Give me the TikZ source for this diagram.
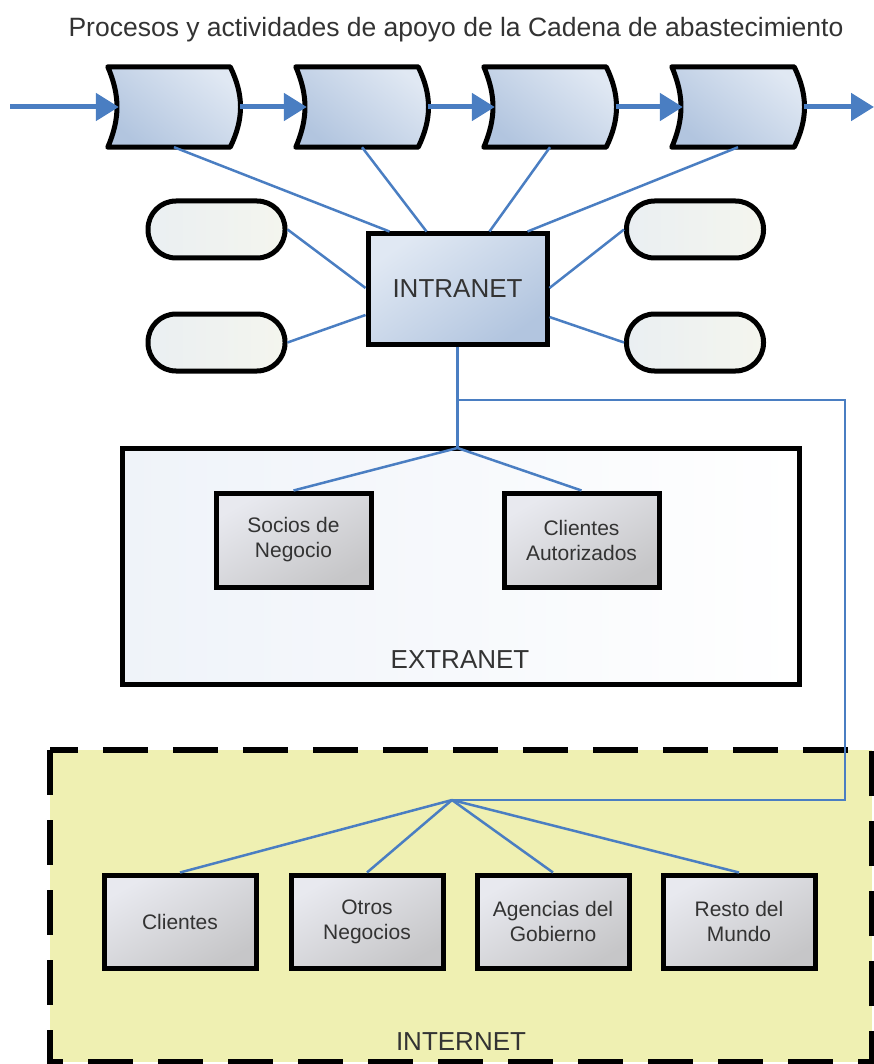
\documentclass[tikz,border=0pt]{standalone}
\usepackage{fontspec}
\setmainfont{Liberation Sans}
\usetikzlibrary{arrows.meta,calc}

\definecolor{link}{HTML}{4A7EC2}
\definecolor{ink}{HTML}{333333}
\definecolor{procLight}{HTML}{E0E8F3}
\definecolor{procDark}{HTML}{B2C5DF}
\definecolor{pillA}{HTML}{EAEFF2}
\definecolor{pillB}{HTML}{F4F5EE}
\definecolor{grayLight}{HTML}{E8E9EF}
\definecolor{grayDark}{HTML}{C6C6C8}
\definecolor{netYellow}{HTML}{EFF0B2}
\definecolor{extTint}{HTML}{EFF3F9}

\tikzset{
  big/.style={font=\fontsize{26}{30}\selectfont, text=ink},
  small/.style={font=\fontsize{21}{25}\selectfont, text=ink, align=center},
  procnode/.style={minimum width=132pt, minimum height=80pt, inner sep=0pt},
  procshape/.style={draw=black, line width=5pt, line join=round,
    top color=procLight, bottom color=procDark, shading angle=-40},
  pill/.style={draw=black, line width=5pt, rounded corners=28pt,
    minimum width=137pt, minimum height=57pt, inner sep=0pt,
    left color=pillA, right color=pillB},
  hubbox/.style={draw=black, line width=5pt, minimum width=179pt,
    minimum height=110pt, inner sep=0pt, big,
    top color=procLight, bottom color=procDark, shading angle=35},
  graybox/.style={draw=black, line width=5pt, minimum width=155pt,
    minimum height=94pt, inner sep=0pt, small,
    top color=grayLight, bottom color=grayDark, shading angle=30},
  netbox/.style={graybox, minimum width=152pt, minimum height=93pt},
  zone/.style={draw=black, line width=5pt, inner sep=0pt},
  netborder/.style={draw=black, line width=5.5pt, dash pattern=on 45pt off 25pt},
  wire/.style={draw=link, line width=2.5pt},
  flow/.style={draw=link, line width=5pt,
    -{Triangle[length=23pt,width=27pt]}, shorten >=-2pt},
}

\begin{document}
\begin{tikzpicture}[x=1pt,y=-1pt]
\useasboundingbox (0,0) rectangle (874,1064);

% title
\node[big, font=\fontsize{26.5}{30}\selectfont] (title) at (456,30)
  {Procesos y actividades de apoyo de la Cadena de abastecimiento};

% ---- internet zone (background) ----
\fill[netYellow] (50,750) rectangle (872,1062);
\draw[netborder] (50,750) rectangle (872,1062);

% ---- process chain: concave left side, convex right side ----
\foreach \n/\x in {p1/174, p2/362, p3/550, p4/738}{
  \node[procnode] (\n) at (\x,107) {};
  \path[procshape]
    (\n.north west) -- ([xshift=-10pt]\n.north east)
    to[bend left=26] ([xshift=-10pt]\n.south east)
    -- (\n.south west)
    to[bend right=23] (\n.north west) -- cycle;
}
\coordinate (start) at (10,107);
\coordinate (finish) at (872,107);
\draw[flow] (start) -- ([xshift=9pt]p1.west);
\draw[flow] (p1.east) -- ([xshift=9pt]p2.west);
\draw[flow] (p2.east) -- ([xshift=9pt]p3.west);
\draw[flow] (p3.east) -- ([xshift=9pt]p4.west);
\draw[flow] (p4.east) -- (finish);

% ---- intranet ----
\node[hubbox] (intranet) at (457.5,289) {INTRANET};
\node[pill] (pl1) at (216.5,229.5) {};
\node[pill] (pl2) at (216.5,342.5) {};
\node[pill] (pr1) at (695,229.5) {};
\node[pill] (pr2) at (695,342.5) {};

\draw[wire] (p1.south) -- ([xshift=-68pt]intranet.north);
\draw[wire] (p2.south) -- ([xshift=-31pt]intranet.north);
\draw[wire] (p3.south) -- ([xshift=32pt]intranet.north);
\draw[wire] (p4.south) -- ([xshift=70pt]intranet.north);
\draw[wire] (pl1.east) -- ([yshift=1pt]intranet.west);
\draw[wire] (pl2.east) -- ([yshift=-26pt]intranet.west);
\draw[wire] (pr1.west) -- ([yshift=1pt]intranet.east);
\draw[wire] (pr2.west) -- ([yshift=-28pt]intranet.east);

% ---- extranet ----
\node[zone, minimum width=677pt, minimum height=236pt,
      left color=extTint, right color=white] (extranet) at (460.5,566) {};
\node[big] (extlabel) at (460,660) {EXTRANET};
\node[graybox] (socios) at (293.5,540) {Socios de\\Negocio};
\node[graybox] (autorizados) at (581.5,540) {Clientes\\Autorizados};

\coordinate (split) at (457.5,400);
\coordinate (h1) at (457.5,448);
\coordinate (h2) at (452,800);
\coordinate (rightrun) at (845,600);

\draw[wire] (intranet.south) -- (split) -- (h1);
\draw[wire] (h1) -- (socios.north);
\draw[wire] (h1) -- (autorizados.north);
\draw[wire] (split) -- (split -| rightrun) -- (rightrun |- h2) -- (h2);

% ---- internet ----
\node[netbox] (clientes) at (180,921.5) {Clientes};
\node[netbox] (otros) at (367,921.5) {Otros\\Negocios};
\node[netbox] (agencias) at (553,921.5) {Agencias del\\Gobierno};
\node[netbox] (resto) at (739,921.5) {Resto del\\Mundo};
\node[big] (netlabel) at (461,1042) {INTERNET};

\foreach \b in {clientes, otros, agencias, resto}
  \draw[wire] (h2) -- (\b.north);
\end{tikzpicture}
\end{document}
